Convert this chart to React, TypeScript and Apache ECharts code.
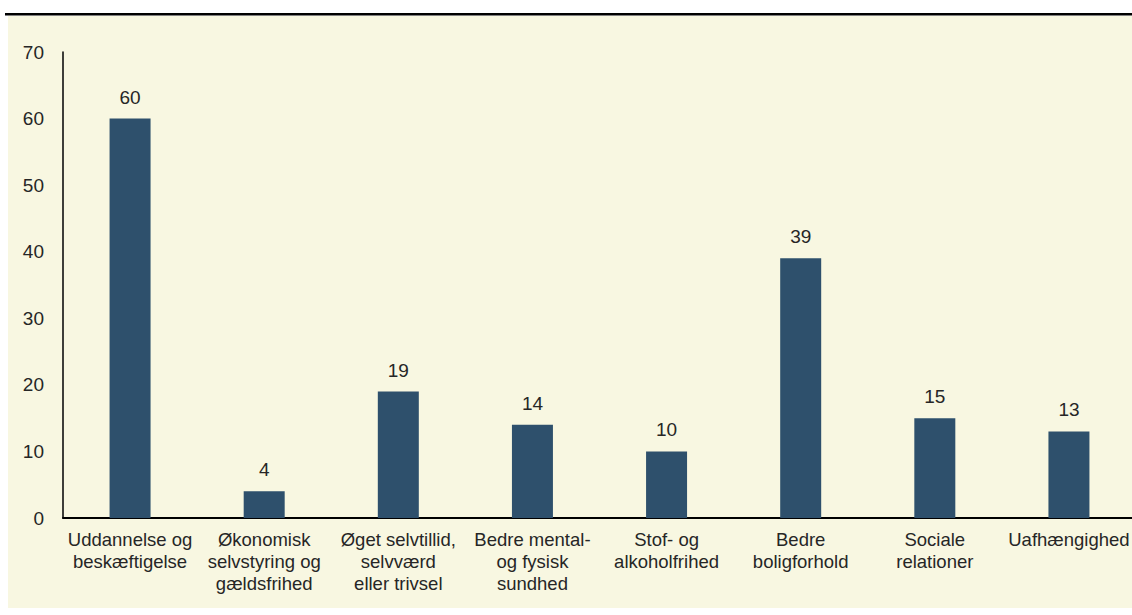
import React, { useEffect, useRef } from "react";
import * as echarts from "echarts";

const categories = [
  "Uddannelse og\nbeskæftigelse",
  "Økonomisk\nselvstyring og\ngældsfrihed",
  "Øget selvtillid,\nselvværd\neller trivsel",
  "Bedre mental-\nog fysisk\nsundhed",
  "Stof- og\nalkoholfrihed",
  "Bedre\nboligforhold",
  "Sociale\nrelationer",
  "Uafhængighed",
];
const values = [60, 4, 19, 14, 10, 39, 15, 13];
const yTicks = [0, 10, 20, 30, 40, 50, 60, 70];

export default function App() {
  const ref = useRef<HTMLDivElement>(null);
  useEffect(() => {
    if (!ref.current) return;
    const chart = echarts.init(ref.current, null, { renderer: "svg" });
    const font = "'Liberation Sans', Arial, sans-serif";
    chart.setOption({
      animation: false,
      textStyle: { fontFamily: font },
      graphic: [
        { type: "rect", z: -10, shape: { x: 8, y: 16, width: 1132, height: 592 }, style: { fill: "#F8F7E1" } },
        { type: "rect", z: -10, shape: { x: 5, y: 13, width: 1135, height: 2.5 }, style: { fill: "#000" } },
      ],
      grid: { left: 63, right: 4, top: 52, bottom: 97, containLabel: false },
      xAxis: {
        type: "category",
        data: categories,
        axisLine: { show: true, lineStyle: { color: "#000", width: 2 } },
        axisTick: { show: false },
        axisLabel: { color: "#262626", fontSize: 18.5, lineHeight: 22, margin: 10, interval: 0, fontFamily: font },
      },
      yAxis: {
        type: "value",
        min: 0,
        max: 70,
        interval: 10,
        axisLine: { show: true, lineStyle: { color: "#000", width: 1.5 } },
        axisTick: { show: false },
        splitLine: { show: false },
        axisLabel: { color: "#262626", fontSize: 19, margin: 19, fontFamily: font,
          formatter: (v: number) => (yTicks.includes(v) ? String(v) : "") },
      },
      series: [
        {
          type: "bar",
          data: values,
          barWidth: 41,
          itemStyle: { color: "#2E506C" },
          label: { show: true, position: "top", distance: 12, color: "#262626", fontSize: 19, fontFamily: font },
        },
      ],
    });
    return () => chart.dispose();
  }, []);
  return (
    <div style={{ position: "absolute", left: 0, top: 0, width: 1132, height: 615, overflow: "hidden", background: "#fff" }}>
      <div ref={ref} style={{ width: 1140, height: 615 }} />
    </div>
  );
}
